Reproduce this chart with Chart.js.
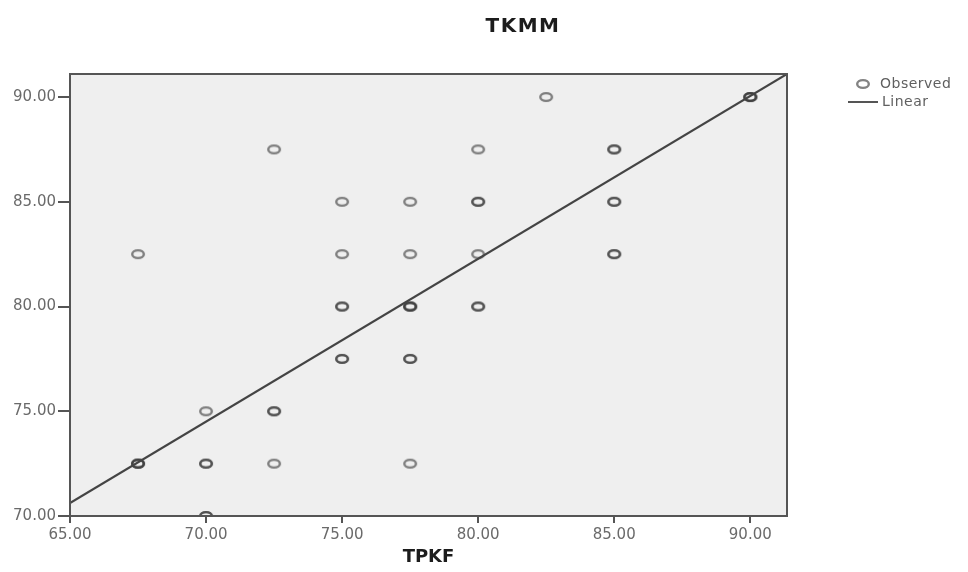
<!DOCTYPE html>
<html>
<head>
<meta charset="utf-8">
<script src="https://cdn.jsdelivr.net/npm/chart.js@4.4.1/dist/chart.umd.min.js"></script>
<style>
  html, body { margin: 0; padding: 0; background: #fff; }
  #wrap { width: 968px; height: 572px; position: relative; }
</style>
</head>
<body>
<div id="wrap"><canvas id="chart"></canvas></div>
<script>
// observed points (repeated pairs = several cases on the same spot)
const obsX = [82.5, 90, 90, 90, 72.5, 80, 85, 85,
              75, 77.5, 80, 80, 85, 85,
              67.5, 75, 77.5, 80, 85, 85,
              75, 75, 77.5, 77.5, 77.5, 80, 80,
              75, 75, 77.5, 77.5,
              70, 72.5, 72.5,
              67.5, 67.5, 67.5, 70, 70, 72.5, 77.5,
              70, 70];
const obsY = [90, 90, 90, 90, 87.5, 87.5, 87.5, 87.5,
              85, 85, 85, 85, 85, 85,
              82.5, 82.5, 82.5, 82.5, 82.5, 82.5,
              80, 80, 80, 80, 80, 80, 80,
              77.5, 77.5, 77.5, 77.5,
              75, 75, 75,
              72.5, 72.5, 72.5, 72.5, 72.5, 72.5, 72.5,
              70, 70];
// linear fit, ends at the plot edges
const fitX = [65, 91.35];
const fitY = [70.62, 91.1];
const xTicks = [65, 70, 75, 80, 85, 90];
const yTicks = [70, 75, 80, 85, 90];

const FONT = '"DejaVu Sans", sans-serif';

// small oval ring used as the point marker
function makeRing(color) {
    const c = document.createElement('canvas');
    c.width = 16; c.height = 12;
    const g = c.getContext('2d');
    g.strokeStyle = color;
    g.lineWidth = 2.4;
    g.beginPath();
    g.ellipse(8, 6, 5.8, 3.9, 0, 0, Math.PI * 2);
    g.stroke();
    return c;
}
const ring = makeRing('rgba(55,55,55,0.62)');

const framePlugin = {
    id: 'frame',
    beforeDraw(chart) {
        const { ctx, chartArea: a } = chart;
        ctx.save();
        ctx.fillStyle = '#efefef';
        ctx.fillRect(a.left, a.top, a.width, a.height);
        ctx.restore();
    },
    afterDraw(chart) {
        const { ctx, chartArea: a } = chart;
        ctx.save();
        // box round the plot
        ctx.strokeStyle = '#555';
        ctx.lineWidth = 2;
        ctx.strokeRect(a.left, a.top, a.width, a.height);

        // title
        ctx.fillStyle = '#1c1c1c';
        ctx.font = 'bold 20px ' + FONT;
        ctx.letterSpacing = '1.5px';
        ctx.textAlign = 'center';
        ctx.textBaseline = 'middle';
        ctx.fillText('TKMM', 523, 27);

        // legend
        ctx.font = '14px ' + FONT;
        ctx.letterSpacing = '0.5px';
        ctx.textAlign = 'left';
        ctx.fillStyle = '#606060';
        ctx.drawImage(ring, 863 - 8, 84 - 6);
        ctx.fillText(chart.data.datasets[1].label, 880, 84);
        ctx.strokeStyle = '#555';
        ctx.lineWidth = 2;
        ctx.beginPath();
        ctx.moveTo(848, 102);
        ctx.lineTo(878, 102);
        ctx.stroke();
        ctx.fillText(chart.data.datasets[0].label, 882, 102);
        ctx.restore();
    }
};

const ctx = document.getElementById('chart').getContext('2d');
new Chart(ctx, {
    type: 'scatter',
    data: {
        datasets: [
            {
                label: 'Linear',
                type: 'line',
                data: fitX.map((x, i) => ({ x: x, y: fitY[i] })),
                borderColor: '#444',
                borderWidth: 2.2,
                pointRadius: 0,
                fill: false,
                order: 0
            },
            {
                label: 'Observed',
                data: obsX.map((x, i) => ({ x: x, y: obsY[i] })),
                pointStyle: ring,
                pointRadius: 6,
                clip: 0,
                order: 1
            }
        ]
    },
    options: {
        responsive: true, maintainAspectRatio: false,
        animation: false,
        layout: { padding: { top: 74, right: 181, left: 0, bottom: 0 } },
        plugins: { legend: { display: false }, tooltip: { enabled: false }, title: { display: false } },
        scales: {
            x: {
                type: 'linear', min: 65, max: 91.35,
                afterBuildTicks: s => { s.ticks = xTicks.map(v => ({ value: v })); },
                afterFit: s => { s.height = 56; },
                grid: { drawOnChartArea: false, drawTicks: true, tickLength: 7, color: '#555', lineWidth: 2 },
                border: { display: true, color: '#555', width: 2 },
                ticks: { color: '#6a6a6a', font: { family: FONT, size: 15 }, padding: 3, maxRotation: 0,
                         callback: v => v.toFixed(2) },
                title: { display: true, text: 'TPKF', color: '#1c1c1c',
                         font: { family: FONT, size: 18, weight: 'bold' }, padding: { top: 0, bottom: 4 } }
            },
            y: {
                type: 'linear', min: 70, max: 91.1,
                afterBuildTicks: s => { s.ticks = yTicks.map(v => ({ value: v })); },
                afterFit: s => { s.width = 70; },
                grid: { drawOnChartArea: false, drawTicks: true, tickLength: 12, color: '#555', lineWidth: 2 },
                border: { display: true, color: '#555', width: 2 },
                ticks: { color: '#6a6a6a', font: { family: FONT, size: 15 }, padding: 2,
                         callback: v => v.toFixed(2) }
            }
        }
    },
    plugins: [framePlugin]
});
</script>
</body>
</html>
